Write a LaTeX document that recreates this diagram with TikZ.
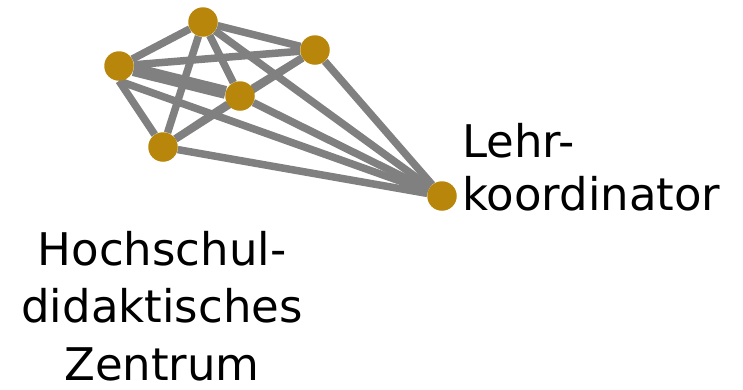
\documentclass[tikz,border=0pt]{standalone}
\usepackage{fontspec}
\setmainfont{DejaVu Sans}
\usetikzlibrary{backgrounds}
\definecolor{knot}{RGB}{184,134,11}
\definecolor{band}{RGB}{128,128,128}
\tikzset{
  actor/.style={circle,fill=knot,inner sep=0pt,minimum size=29.5pt},
  link/.style={draw=band,line width=7.5pt},
  biglink/.style={draw=band,line width=13pt},
  tagtext/.style={inner sep=0pt,font=\fontsize{45}{53}\selectfont}
}
\begin{document}
\begin{tikzpicture}[x=1pt,y=-1pt]
\useasboundingbox (0,0) rectangle (743,389);
% Akteure
\node[actor] (a) at (203,22) {};
\node[actor] (b) at (119,66) {};
\node[actor] (c) at (315,50) {};
\node[actor] (d) at (240,96) {};
\node[actor] (e) at (163,147) {};
\node[actor] (f) at (442,196) {};
% Verbindungen (unter den Knoten)
\begin{scope}[on background layer]
\draw[link] (a) -- (b);
\draw[link] (a) -- (c);
\draw[link] (a) -- (d);
\draw[link] (a) -- (e);
\draw[link] (a) -- (f);
\draw[link] (b) -- (c);
\draw[biglink] (b) -- (d);
\draw[link] (b.south) -- (e);
\draw[link] (b.south) -- (f);
\draw[link] (c) -- (d);
\draw[link] (c) -- (e);
\draw[link] (c) -- (f);
\draw[link] (d) -- (e);
\draw[link] (d) -- (f);
\draw[link] (e) -- (f);
\end{scope}
% Beschriftungen
\node[tagtext,anchor=north west,align=left] (lk) at (462,123)
  {Lehr-\\koordinator};
\node[tagtext,anchor=north,align=center,font=\fontsize{45}{57.5}\selectfont] (hz)
  at (162,231) {Hochschul-\\didaktisches\\Zentrum};
\end{tikzpicture}
\end{document}
